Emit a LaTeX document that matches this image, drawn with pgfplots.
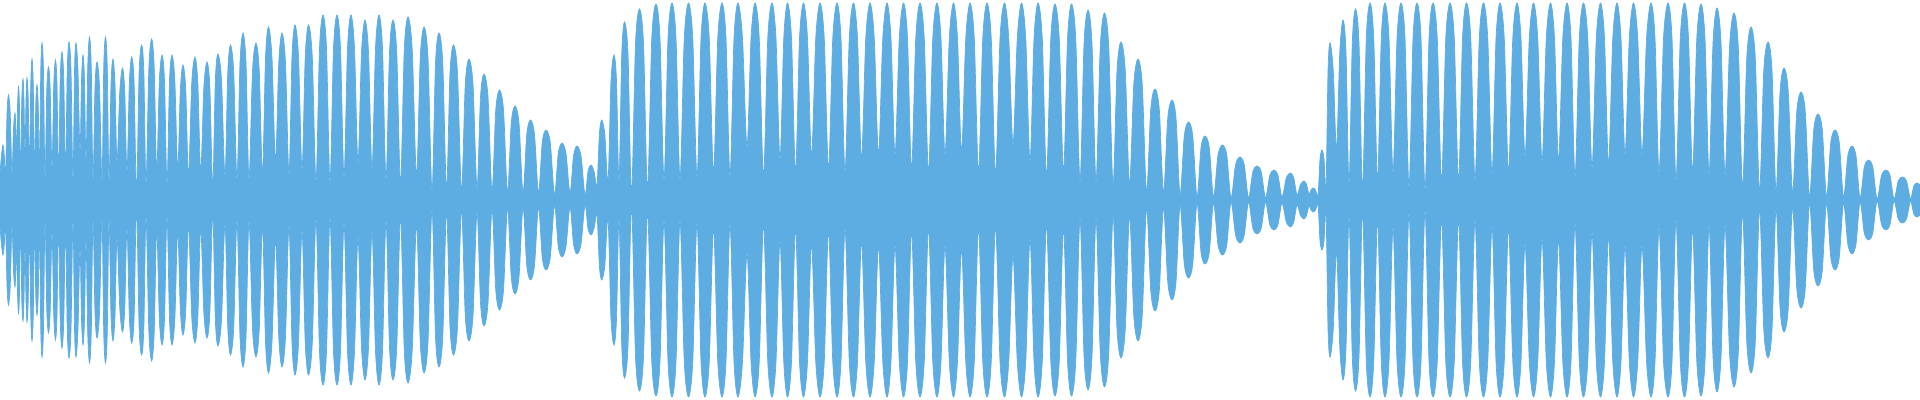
\documentclass[border=0pt]{standalone}
\usepackage{pgfplots}
\pgfplotsset{compat=1.18}
\usepackage{pgfplotstable}
\definecolor{wave}{HTML}{5DADE2}
\pgfplotstableread{
x y
0 27
1.5 45
3 55
4.25 45
5.5 22
7 86
8.5 105
10.25 86
12 25
13.5 71.5
15 87
15.75 71.5
16.5 40
17.5 92.5
18.5 113
19.5 92.5
20.5 13
21.75 99
23 121
24 99
25 45
26 100
27 122
28.25 100
29.5 25
30.75 115.5
32 141
33.25 115.5
34.5 22
35.75 94
37 115
38.25 94
39.5 25
40.75 129
42 157
43.5 129
45 18
46.75 109
48.5 133
50.25 109
52 30
53.75 115
55.5 140
57 115
58.5 20
60.25 121
62 148
63.75 121
65.5 25
67.25 129.5
69 158
71 129.5
73 17
74.5 129
76 157
78 129
80 47
81.5 119
83 145
84.5 119
86 37
87.75 133.5
89.5 163
91.25 133.5
93 18
95 113
97 138
99.5 113
102 18
103.75 133.5
105.5 163
107.25 133.5
109 17
111 115.5
113 141
115 115.5
117 37
119.75 108
122.5 132
124.75 108
127 27
129.35 117
131.7 143
134.1 117
136.5 5
139.1 127
141.7 155
143.85 127
146 15
148.85 132
151.7 161
154.2 132
156.7 28
159.35 119
162 145
164.5 119
167 15
169.5 119
172 145
174.85 119
177.7 30
180.35 110.5
183 135
185.75 110.5
188.5 23
191.75 117
195 143
197.85 117
200.7 27
203.85 113
207 138
209.85 113
212.7 12
215.35 120
218 146
221.5 120
225 23
227.75 127
230.5 155
233.75 127
237 20
240 137
243 167
246 137
249 20
252.5 129
256 157
259.25 129
262.5 25
265.5 142
268.5 173
272 142
275.5 38
278.75 137
282 167
285.5 137
289 25
292 143.5
295 175
298.5 143.5
302 30
305.25 143.5
308.5 175
312.25 143.5
316 18
319.5 151.5
323 185
326.5 151.5
330 17
333.5 151.5
337 185
340.5 151.5
344 22
347.5 151.5
351 185
354.5 151.5
358 37
361.5 147.5
365 180
368.5 147.5
372 30
375.5 151.5
379 185
382.5 151.5
386 20
389.5 147.5
393 180
396.75 147.5
400.5 15
404.25 150
408 183
412.25 150
416.5 23
420.25 142
424 173
428 142
432 8
435.5 137
439 167
442.75 137
446.5 10
450 127
453.5 155
457.5 127
461.5 8
465.25 115.5
469 141
473 115.5
477 12
480.5 103
484 126
488 103
492 8
495.75 90
499.5 110
503.5 90
507.5 7
511.25 77
515 94
519 77
523 7
526.75 65.5
530.5 80
534.5 65.5
538.5 7
542.25 57.5
546 70
550.25 57.5
554.5 5
558.25 46.5
562 57
566 46.5
570 7
573.5 44
577 54
581 44
585 5
588 28.5
591 35
594 28.5
597 15
599.35 65.5
601.7 80
604.85 65.5
608 18
611 119
614 145
616.5 119
619 18
621.75 146
624.5 178
628 146
631.5 5
635.5 156.5
639.5 191
643.5 156.5
647.5 10
651.75 161
656 196
660 161
664 20
668 161.5
672 197
676 161.5
680 20
684.25 161.5
688.5 197
692.75 161.5
697 22
701 161.5
705 197
709.25 161.5
713.5 27
717.75 161.5
722 197
726 161.5
730 23
734 161.5
738 197
742.5 161.5
747 53
751 161.5
755 197
759.25 161.5
763.5 23
767.75 161.5
772 197
776 161.5
780 40
783.75 161.5
787.5 197
791.5 161.5
795.5 27
799.5 161.5
803.5 197
807.5 161.5
811.5 43
815.75 161.5
820 197
824.25 161.5
828.5 30
832.75 161.5
837 197
841 161.5
845 28
849.25 161.5
853.5 197
857.5 161.5
861.5 40
865.75 161.5
870 197
874.25 161.5
878.5 45
882.75 161.5
887 197
891 161.5
895 45
899.25 161.5
903.5 197
907.5 161.5
911.5 30
915.75 161.5
920 197
924.25 161.5
928.5 27
932.75 161.5
937 197
941 161.5
945 45
949.25 161.5
953.5 197
957.5 161.5
961.5 48
965.75 161.5
970 197
974.25 161.5
978.5 27
982.75 161.5
987 197
991.25 161.5
995.5 25
1000 161.5
1004.5 197
1008.75 161.5
1013 55
1017.25 161.5
1021.5 197
1025.75 161.5
1030 38
1034 161.5
1038 197
1042.25 161.5
1046.5 23
1050.75 161
1055 196
1059.25 161
1063.5 27
1067.5 161
1071.5 196
1075.75 161
1080 18
1084 156
1088 190
1092 156
1096 18
1100.25 153
1104.5 187
1108.75 153
1113 15
1117 129.5
1121 158
1125.25 129.5
1129.5 15
1133.75 115.5
1138 141
1142.25 115.5
1146.5 8
1150.75 91
1155 111
1159.25 91
1163.5 7
1167.75 82
1172 100
1176 82
1180 5
1184.25 64
1188.5 78
1192.75 64
1197 3
1201 52.5
1205 64
1209.25 52.5
1213.5 3
1218 45
1222.5 55
1226.75 45
1231 2
1235.5 35
1240 43
1244.25 35
1248.5 2
1252.75 28
1257 34
1261.25 28
1265.5 2
1269.75 24.5
1274 30
1278 24.5
1282 3
1286.25 22
1290.5 27
1293.75 22
1297 5
1300.5 15.5
1304 19
1306.5 15.5
1309 6
1311 10
1313 12
1315.5 10
1318 5
1320 41
1322 50
1324 41
1326 10
1328 129
1330 157
1333.25 129
1336.5 50
1339.75 147.5
1343 180
1346 147.5
1349 15
1352.25 156.5
1355.5 191
1359 156.5
1362.5 10
1366.25 161.5
1370 197
1373.75 161.5
1377.5 18
1381.25 161.5
1385 197
1389 161.5
1393 27
1397 161.5
1401 197
1405 161.5
1409 12
1413 161.5
1417 197
1421 161.5
1425 10
1429 161.5
1433 197
1437.25 161.5
1441.5 18
1445.75 161.5
1450 197
1454.25 161.5
1458.5 18
1462.5 161.5
1466.5 197
1470.75 161.5
1475 20
1479.25 161.5
1483.5 197
1487.75 161.5
1492 25
1496 161.5
1500 197
1504.25 161.5
1508.5 27
1512.75 161.5
1517 197
1521 161.5
1525 43
1529.25 161.5
1533.5 197
1537.75 161.5
1542 38
1546.25 161.5
1550.5 197
1554.5 161.5
1558.5 38
1562.75 161.5
1567 197
1571 161.5
1575 23
1579.25 161.5
1583.5 197
1587.75 161.5
1592 32
1596.25 161.5
1600.5 197
1604.5 161.5
1608.5 35
1612.75 161.5
1617 197
1621 161.5
1625 45
1629.25 161.5
1633.5 197
1637.75 161.5
1642 45
1646.5 161.5
1651 197
1655 161.5
1659 27
1663.5 161.5
1668 197
1672 161.5
1676 19
1680.25 161.5
1684.5 197
1688.5 161.5
1692.5 27
1696.75 161
1701 196
1705 161
1709 25
1713 157.5
1717 192
1721 157.5
1725 25
1729.5 153
1734 187
1738.25 153
1742.5 12
1746.75 142
1751 173
1755.25 142
1759.5 8
1763.75 129.5
1768 158
1772 129.5
1776 8
1780 108
1784 132
1788.25 108
1792.5 7
1796.75 88.5
1801 108
1805.25 88.5
1809.5 3
1813.75 70.5
1818 86
1822.25 70.5
1826.5 3
1830.75 57.5
1835 70
1839.25 57.5
1843.5 3
1847.75 44
1852 54
1856 44
1860 2
1864.25 33
1868.5 40
1872.75 33
1877 1
1881.5 24.5
1886 30
1890 24.5
1894 1
1898.25 19
1902.5 23
1906.5 19
1910.5 1
1913.75 14
1917 17
1920 15
}\envelope
\begin{document}
\begin{tikzpicture}
\begin{axis}[
  width=19.2cm, height=4cm, scale only axis,
  axis line style={draw=none},
  ticks=none,
  xmin=0, xmax=1920, ymin=-200, ymax=200,
  clip=true,
]
\addplot[draw=wave, line width=0.2pt, fill=wave, smooth] table[x=x, y=y] {\envelope} \closedcycle;
\addplot[draw=wave, line width=0.2pt, fill=wave, smooth] table[x=x, y expr=-\thisrow{y}] {\envelope} \closedcycle;
\end{axis}
\end{tikzpicture}
\end{document}
